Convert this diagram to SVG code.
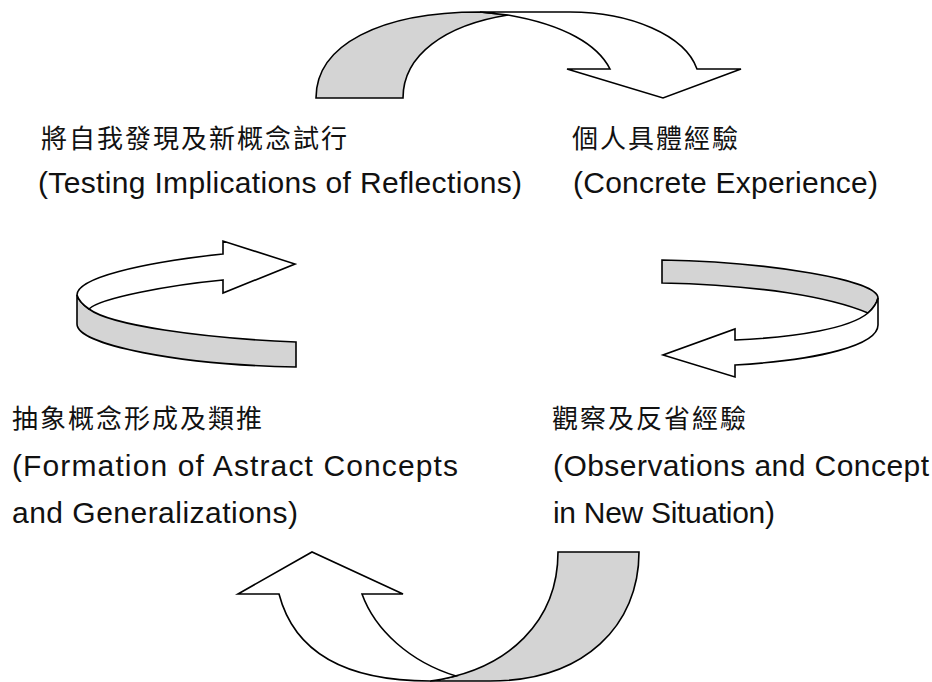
<svg xmlns="http://www.w3.org/2000/svg" width="932" height="682" viewBox="0 0 932 682">
<style>
.band{fill:#d4d4d4;stroke:#000;stroke-width:1.6;stroke-linejoin:miter}
.arrow{fill:#fff;stroke:#000;stroke-width:1.6;stroke-linejoin:miter}
.cjk{font-family:"Noto Sans CJK TC","Noto Sans CJK SC",sans-serif;font-size:26px;letter-spacing:2px;fill:#111}
.lat{font-family:"Liberation Sans","Noto Sans",sans-serif;font-size:30px;fill:#111}
</style>
<rect width="932" height="682" fill="#fff"/>
<g id="connectors">
  <g id="arrow-top">
    <path class="band" d="M316,98 C316,45 380,12 480,12 L508,15 C445,25 403,55 403,98 Z"/>
    <path class="arrow" d="M480,12 L570,12 C630,12 685,35 697,69 L741,69 L663,98 L567,69 L610,69 C598,45 565,25 508,15 Z"/>
  </g>
  <g id="arrow-right">
    <path class="band" d="M662,260 C770,262 878,280 878,298 Q876,306 868,313 C830,297 760,285 662,283 Z"/>
    <path class="arrow" d="M868,313 Q876,306 878,298 L878,325 C878,345 820,360 735,365 L735,377 L663,355 L735,329 L735,340 C800,337 850,328 868,313 Z"/>
  </g>
  <g id="arrow-bottom">
    <path class="band" d="M558,552 L639,552 C639,625 585,681 490,681 L430,681 C510,670 558,620 558,552 Z"/>
    <path class="arrow" d="M279,594 C295,655 350,681 430,681 C440,680 448,678 456,676 C410,662 375,630 362,594 L403,594 L312,552 L238,594 Z"/>
  </g>
  <g id="arrow-left">
    <path class="band" d="M77,295 L77,324 C77,345 180,365 296,367 L296,342 C200,338 110,325 89,309 Q79,302 77,295 Z"/>
    <path class="arrow" d="M77,295 C77,278 140,263 223,254 L223,241 L295,264 L223,293 L223,280 C170,285 100,298 89,309 Q79,302 77,295 Z"/>
  </g>
</g>
<g id="node-testing">
  <text class="cjk" x="41" y="148">將自我發現及新概念試行</text>
  <text class="lat" x="38" y="193" textLength="484" lengthAdjust="spacing">(Testing Implications of Reflections)</text>
</g>
<g id="node-concrete">
  <text class="cjk" x="572" y="148">個人具體經驗</text>
  <text class="lat" x="573" y="193" textLength="305" lengthAdjust="spacing">(Concrete Experience)</text>
</g>
<g id="node-abstract">
  <text class="cjk" x="12" y="428">抽象概念形成及類推</text>
  <text class="lat" x="12" y="476" textLength="446" lengthAdjust="spacing">(Formation of Astract Concepts</text>
  <text class="lat" x="12" y="523" textLength="286" lengthAdjust="spacing">and Generalizations)</text>
</g>
<g id="node-observation">
  <text class="cjk" x="552" y="428">觀察及反省經驗</text>
  <text class="lat" x="553" y="476" textLength="376" lengthAdjust="spacing">(Observations and Concept</text>
  <text class="lat" x="553" y="523" textLength="222" lengthAdjust="spacing">in New Situation)</text>
</g>
</svg>
